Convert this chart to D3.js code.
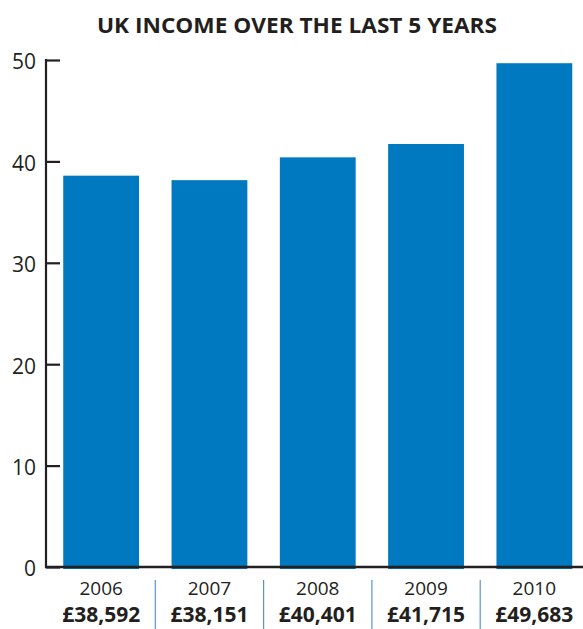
<!DOCTYPE html>
<html>
<head>
<meta charset="utf-8">
<script src="https://cdn.jsdelivr.net/npm/d3@7"></script>
<style>
  html, body { margin: 0; padding: 0; background: #fff; }
  svg { display: block; }
</style>
</head>
<body>
<svg id="chart" width="583" height="629"></svg>
<script>
const title = "UK INCOME OVER THE LAST 5 YEARS";
const years = ["2006", "2007", "2008", "2009", "2010"];
const incomeThousands = [38.592, 38.151, 40.401, 41.715, 49.683];
const incomeLabels = ["£38,592", "£38,151", "£40,401", "£41,715", "£49,683"];
const yTicks = [0, 10, 20, 30, 40, 50];

const svg = d3.select("#chart");
const W = 583, H = 629;
const barColor = "#0079c1";
const inkColor = "#231f20";
const sepColor = "#5b93cf";

const x = d3.scaleBand().domain(years).range([47, 588.5]).paddingInner(0.3).paddingOuter(0.15);
const y = d3.scaleLinear().domain([0, 50]).range([567, 60]);

// Title
svg.append("text")
  .attr("x", 297).attr("y", 32.5)
  .attr("text-anchor", "middle")
  .attr("font-family", "'Open Sans', sans-serif")
  .attr("font-weight", 700)
  .attr("font-size", 22)
  .attr("textLength", 400)
  .attr("lengthAdjust", "spacingAndGlyphs")
  .attr("fill", inkColor)
  .text(title);

// Bars
svg.append("g").selectAll("rect")
  .data(years)
  .join("rect")
  .attr("x", d => x(d))
  .attr("width", x.bandwidth())
  .attr("y", (d, i) => y(incomeThousands[i]))
  .attr("height", (d, i) => y(0) + 2 - y(incomeThousands[i]))
  .attr("fill", barColor);

// Y axis
const yAxis = svg.append("g")
  .attr("transform", "translate(46,0)")
  .call(d3.axisLeft(y).tickValues(yTicks).tickSize(-14).tickPadding(10));
yAxis.select(".domain").remove();
yAxis.selectAll(".tick line").attr("stroke", inkColor).attr("stroke-width", 2.2);
yAxis.selectAll(".tick text")
  .attr("font-family", "'Open Sans', sans-serif")
  .attr("font-size", 21)
  .attr("font-weight", 400)
  .attr("fill", inkColor)
  .attr("dy", "0.42em");
yAxis.append("line")
  .attr("x1", 0).attr("x2", 0)
  .attr("y1", y(50) - 1).attr("y2", y(0) + 1)
  .attr("stroke", inkColor).attr("stroke-width", 2.2);

// Baseline
svg.append("line")
  .attr("x1", 45).attr("x2", W)
  .attr("y1", y(0)).attr("y2", y(0))
  .attr("stroke", inkColor).attr("stroke-width", 2.4);

// Separators
const seps = years.slice(1);
svg.append("g").selectAll("line")
  .data(seps)
  .join("line")
  .attr("x1", d => x(d) - x.step() * x.paddingInner() / 2)
  .attr("x2", d => x(d) - x.step() * x.paddingInner() / 2)
  .attr("y1", 580).attr("y2", H)
  .attr("stroke", sepColor).attr("stroke-width", 1.2);

// Year labels
svg.append("g").selectAll("text")
  .data(years)
  .join("text")
  .attr("x", d => x(d) + x.bandwidth() / 2)
  .attr("y", 594.5)
  .attr("text-anchor", "middle")
  .attr("font-family", "'Open Sans', sans-serif")
  .attr("font-size", 19)
  .attr("font-weight", 400)
  .attr("fill", inkColor)
  .text(d => d);

// Value labels
svg.append("g").selectAll("text")
  .data(years)
  .join("text")
  .attr("x", d => x(d) + x.bandwidth() / 2)
  .attr("y", 622)
  .attr("text-anchor", "middle")
  .attr("font-family", "'Open Sans', sans-serif")
  .attr("font-size", 21)
  .attr("font-weight", 700)
  .attr("fill", inkColor)
  .text((d, i) => incomeLabels[i]);
</script>
</body>
</html>
